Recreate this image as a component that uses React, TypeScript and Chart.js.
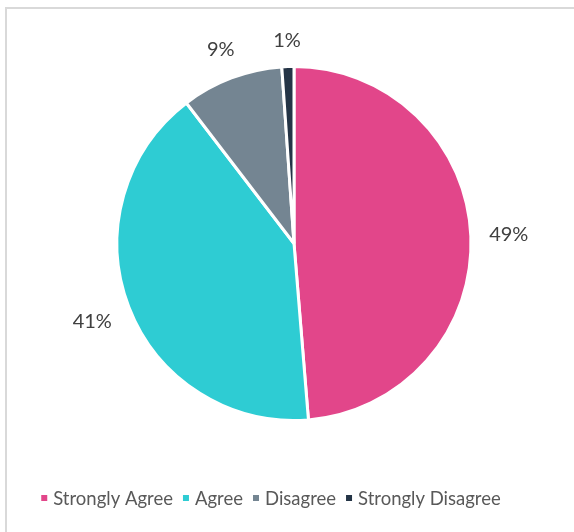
import React, { useEffect, useRef } from "react";
import { Chart, registerables } from "chart.js";

Chart.register(...registerables);

const categories = ["Strongly Agree", "Agree", "Disagree", "Strongly Disagree"];
const values = [48.7, 40.9, 9.3, 1.1];
const percentLabels = ["49%", "41%", "9%", "1%"];
const colors = ["#E2468A", "#2ECCD3", "#748592", "#243446"];

const labelPlugin = {
  id: "outsideLabels",
  afterDatasetsDraw(chart: any) {
    const ctx = chart.ctx;
    const meta = chart.getDatasetMeta(0);
    ctx.save();
    ctx.font = "20px Lato";
    ctx.fillStyle = "#404040";
    ctx.textAlign = "center";
    ctx.textBaseline = "middle";
    meta.data.forEach((arc: any, i: number) => {
      const { x, y, startAngle, endAngle, outerRadius } = arc.getProps(
        ["x", "y", "startAngle", "endAngle", "outerRadius"],
        true
      );
      const mid = (startAngle + endAngle) / 2;
      const dx = Math.cos(mid);
      const dy = Math.sin(mid);
      const text = percentLabels[i];
      const w = ctx.measureText(text).width;
      const h = 16;
      const proj = Math.abs(dx) * (w / 2) + Math.abs(dy) * (h / 2);
      const d = outerRadius + 18 + proj;
      ctx.fillText(text, x + dx * d, y + dy * d);
    });
    ctx.restore();
  },
};

const legendPlugin = {
  id: "customLegend",
  afterDraw(chart: any) {
    const ctx = chart.ctx;
    ctx.save();
    ctx.font = "18.5px Lato";
    ctx.textBaseline = "middle";
    const box = 6;
    const gapBoxText = 6;
    const gapItems = 10;
    const widths = categories.map((c) => ctx.measureText(c).width);
    const total =
      widths.reduce((a, b) => a + b, 0) +
      categories.length * (box + gapBoxText) +
      (categories.length - 1) * gapItems;
    let xPos = 271 - total / 2;
    const yPos = 498;
    categories.forEach((c, i) => {
      ctx.fillStyle = colors[i];
      ctx.fillRect(xPos, yPos - box / 2, box, box);
      xPos += box + gapBoxText;
      ctx.fillStyle = "#595959";
      ctx.textAlign = "left";
      ctx.fillText(c, xPos, yPos + 1);
      xPos += widths[i] + gapItems;
    });
    ctx.restore();
  },
};

export default function App() {
  const ref = useRef<HTMLCanvasElement>(null);
  useEffect(() => {
    if (!ref.current) return;
    const chart = new Chart(ref.current, {
      type: "pie",
      data: {
        labels: categories,
        datasets: [
          {
            data: values,
            backgroundColor: colors,
            borderColor: "#ffffff",
            borderWidth: 3,
          },
        ],
      },
      options: {
        responsive: false,
        animation: false,
        layout: { padding: { top: 65, bottom: 110, left: 60, right: 46 } },
        plugins: {
          legend: { display: false },
          tooltip: { enabled: false },
        },
      },
      plugins: [labelPlugin, legendPlugin],
    });
    return () => chart.destroy();
  }, []);
  return (
    <div
      style={{
        position: "absolute",
        left: 0,
        top: 0,
        width: 574,
        height: 532,
        background: "#fff",
        overflow: "hidden",
      }}
    >
      <div
        style={{
          position: "absolute",
          left: 5,
          top: 7,
          width: 600,
          height: 600,
          border: "2px solid #D9D9D9",
          boxSizing: "border-box",
        }}
      />
      <canvas
        ref={ref}
        width={574}
        height={532}
        style={{ position: "absolute", left: 0, top: 0 }}
      />
    </div>
  );
}
